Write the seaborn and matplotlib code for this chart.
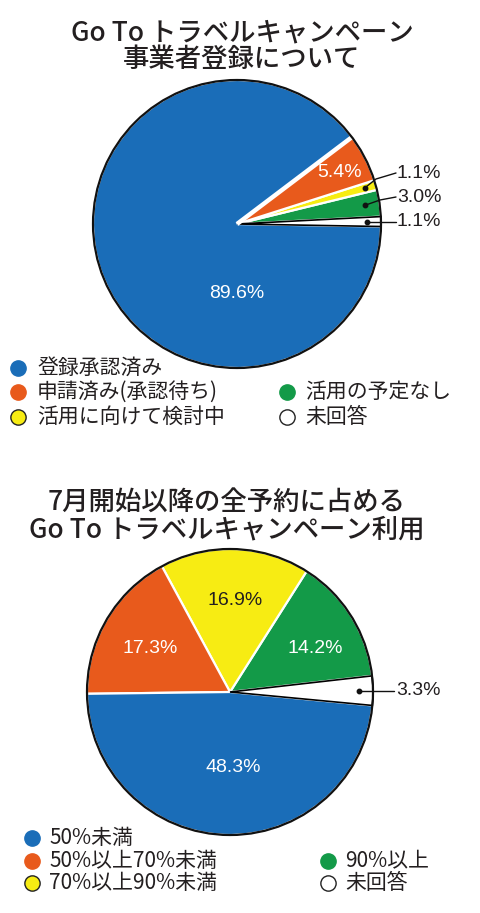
import numpy as np
import matplotlib
matplotlib.use("Agg")
import matplotlib.pyplot as plt
import seaborn as sns

# --- data ---
reg_labels = ["登録承認済み", "申請済み(承認待ち)", "活用に向けて検討中", "活用の予定なし", "未回答"]
reg_values = [89.6, 5.4, 1.1, 3.0, 1.1]
reg_title = "Go To トラベルキャンペーン\n事業者登録について"

use_labels = ["50%未満", "50%以上70%未満", "70%以上90%未満", "90%以上", "未回答"]
use_values = [48.3, 17.3, 16.9, 14.2, 3.3]
use_title = "7月開始以降の全予約に占める\nGo To トラベルキャンペーン利用"

colors = ["#1a6db8", "#e85a1c", "#f7ec13", "#139a48", "#ffffff"]

sns.set_theme(style="white")
plt.rcParams["font.family"] = ["Noto Sans CJK JP", "DejaVu Sans"]
NUM_FONT = ["Liberation Sans", "Noto Sans CJK JP", "DejaVu Sans"]

W, H = 480, 913
fig = plt.figure(figsize=(W / 100, H / 100), dpi=100)
fig.patch.set_facecolor("white")
ax = fig.add_axes([0, 0, 1, 1])
ax.set_xlim(0, W)
ax.set_ylim(0, H)
ax.axis("off")


def Y(py):
    return H - py


def draw_pie(values, order, cx, cy, r, start):
    # order: indices of values counterclockwise from start angle
    vals = [values[i] for i in order]
    cols = [colors[i] for i in order]
    wedges, _ = ax.pie(vals, colors=cols, startangle=start, counterclock=True,
                       center=(cx, Y(cy)), radius=r, frame=True,
                       wedgeprops=dict(edgecolor="white", linewidth=1.6))
    for w, i in zip(wedges, order):
        if colors[i] == "#ffffff":
            w.set_edgecolor("black")
            w.set_linewidth(1.2)
            w.set_zorder(3)
    ax.add_patch(plt.Circle((cx, Y(cy)), r, fill=False, edgecolor="#111111",
                            linewidth=1.6, zorder=4))
    ax.set_xlim(0, W)
    ax.set_ylim(0, H)
    ax.set_aspect("auto")
    return wedges


def dot_at(w, frac, cx, cy, r):
    a = np.deg2rad((w.theta1 + w.theta2) / 2)
    x, y = cx + frac * r * np.cos(a), Y(cy) + frac * r * np.sin(a)
    ax.plot([x], [y], marker="o", markersize=3.2, color="#111111", zorder=6)
    return x, y


def legend_item(mx, tx, py, color, label):
    ax.plot([mx], [Y(py)], marker="o", markersize=11, markerfacecolor=color,
            markeredgecolor="#222222" if color in ("#ffffff", "#f7ec13") else color,
            markeredgewidth=1.0, zorder=6)
    ax.text(tx, Y(py), label, fontsize=15, va="center", ha="left", color="#231f20")


# ---------- top chart ----------
ax.text(242, Y(46), reg_title, fontsize=19, ha="center", va="center",
        weight="medium", linespacing=1.0, color="#231f20")
cx1, cy1, r1 = 237, 224, 144
# counterclockwise from just below 3 o'clock: 未回答, 予定なし, 検討中, 申請済み, 承認済み
w1 = draw_pie(reg_values, [4, 3, 2, 1, 0], cx1, cy1, r1, -1)
# wider white gap between 承認済み and 申請済み
a = np.deg2rad(w1[3].theta2)
ax.plot([cx1, cx1 + r1 * np.cos(a)], [Y(cy1), Y(cy1) + r1 * np.sin(a)],
        color="white", linewidth=3.2, zorder=3.5, solid_capstyle="butt")
ax.text(340, Y(172), "5.4%", fontsize=14, color="white", ha="center",
        va="center", family=NUM_FONT)
ax.text(237, Y(293), "89.6%", fontsize=14, color="white", ha="center",
        va="center", family=NUM_FONT)

# leader lines for the small slices
x, y = dot_at(w1[2], 0.92, cx1, cy1, r1)
ax.plot([x, 376, 396], [y, Y(179), Y(173)], color="#111111", lw=1, zorder=6)
ax.text(397, Y(173), "1.1%", fontsize=14, va="center", family=NUM_FONT, color="#231f20")
x, y = dot_at(w1[1], 0.90, cx1, cy1, r1)
ax.plot([x, 380, 396], [y, Y(200), Y(197)], color="#111111", lw=1, zorder=6)
ax.text(397, Y(197), "3.0%", fontsize=14, va="center", family=NUM_FONT, color="#231f20")
x, y = dot_at(w1[0], 0.90, cx1, cy1, r1)
ax.plot([x, 396], [y, y], color="#111111", lw=1, zorder=6)
ax.text(397, y, "1.1%", fontsize=14, va="center", family=NUM_FONT, color="#231f20")

legend_item(18, 37, 368, colors[0], reg_labels[0])
legend_item(18, 37, 392, colors[1], reg_labels[1])
legend_item(18, 37, 417, colors[2], reg_labels[2])
legend_item(287, 305, 392, colors[3], reg_labels[3])
legend_item(287, 305, 417, colors[4], reg_labels[4])

# ---------- bottom chart ----------
ax.text(227, Y(516), use_title, fontsize=19, ha="center", va="center",
        weight="medium", linespacing=1.0, color="#231f20")
cx2, cy2, r2 = 230, 692, 143
# counterclockwise: 未回答, 90%以上, 70-90%, 50-70%, 50%未満
w2 = draw_pie(use_values, [4, 3, 2, 1, 0], cx2, cy2, r2, -5.4)
ax.text(235, Y(600), "16.9%", fontsize=14, color="#231f20", ha="center",
        va="center", family=NUM_FONT)
ax.text(150, Y(648), "17.3%", fontsize=14, color="white", ha="center",
        va="center", family=NUM_FONT)
ax.text(315, Y(648), "14.2%", fontsize=14, color="white", ha="center",
        va="center", family=NUM_FONT)
ax.text(233, Y(767), "48.3%", fontsize=14, color="white", ha="center",
        va="center", family=NUM_FONT)
x, y = dot_at(w2[0], 0.90, cx2, cy2, r2)
ax.plot([x, 394], [y, y], color="#111111", lw=1, zorder=6)
ax.text(396, y, "3.3%", fontsize=14, va="center", family=NUM_FONT, color="#231f20")

legend_item(32, 49, 838, colors[0], use_labels[0])
legend_item(32, 49, 861, colors[1], use_labels[1])
legend_item(32, 49, 883, colors[2], use_labels[2])
legend_item(328, 345, 861, colors[3], use_labels[3])
legend_item(328, 345, 883, colors[4], use_labels[4])

fig.savefig("out.png", dpi=100, facecolor="white")
